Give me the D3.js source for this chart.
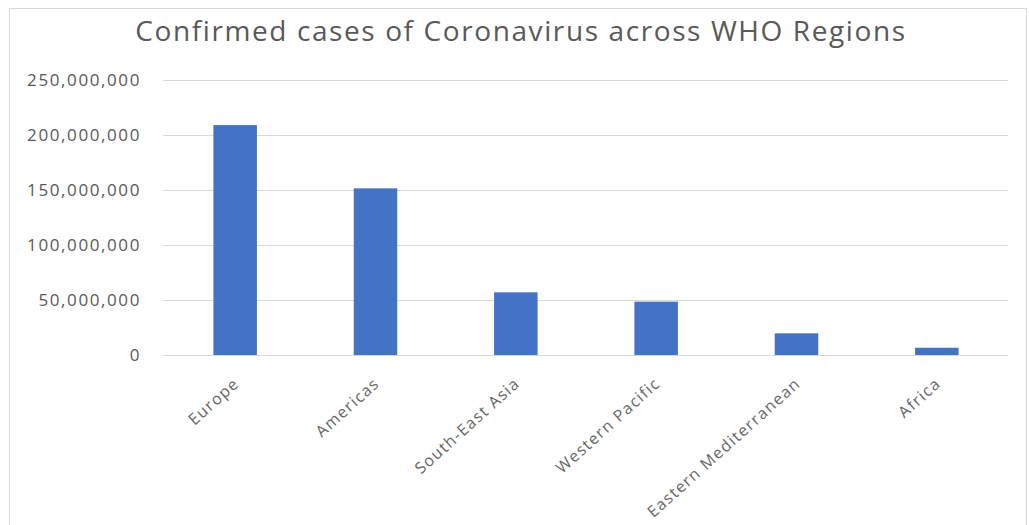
<!DOCTYPE html>
<html><head><meta charset="utf-8">
<script src="https://cdn.jsdelivr.net/npm/d3@7"></script>
<style>body{margin:0;background:#fff;}svg{display:block;font-family:"Open Sans","Noto Sans",sans-serif;}</style>
</head><body>
<svg id="c" width="1029" height="525"></svg>
<script>
const categories = ["Europe","Americas","South-East Asia","Western Pacific","Eastern Mediterranean","Africa"];
const cases = [209000000,151500000,57000000,48500000,19700000,6600000];
const yTicks = [0,50000000,100000000,150000000,200000000,250000000];
const title = "Confirmed cases of Coronavirus across WHO Regions";

const svg = d3.select("#c");
svg.append("rect").attr("x",9.5).attr("y",8.5).attr("width",1017).attr("height",530)
  .attr("fill","#fff").attr("stroke","#d9d9d9");

const x = d3.scaleBand().domain(categories).range([165,1007]).paddingInner(0.69).paddingOuter(0.345);
const y = d3.scaleLinear().domain([0,250000000]).range([355,80]);

svg.append("text").attr("x",521).attr("y",41).attr("text-anchor","middle")
  .attr("font-size",28).attr("letter-spacing",1.6).attr("fill","#595959").text(title);

const ya = svg.append("g").attr("transform","translate(163,0)")
  .call(d3.axisLeft(y).tickValues(yTicks).tickSize(-845).tickPadding(22).tickFormat(d3.format(",")));
ya.select(".domain").remove();
ya.selectAll(".tick line").attr("stroke","#d9d9d9");
ya.selectAll(".tick text").attr("fill","#595959").attr("font-size",17).attr("letter-spacing",1.6)
  .attr("font-family","Open Sans");

svg.append("g").selectAll("rect").data(categories).join("rect")
  .attr("x",d=>x(d)).attr("width",x.bandwidth())
  .attr("y",(d,i)=>y(cases[i])).attr("height",(d,i)=>y(0)-y(cases[i]))
  .attr("fill","#4472c4");

const xa = svg.append("g").attr("transform","translate(0,355)")
  .call(d3.axisBottom(x).tickSize(0).tickPadding(0));
xa.select(".domain").remove();
xa.selectAll(".tick text").attr("fill","#666").attr("font-size",16).attr("letter-spacing",1.3)
  .attr("font-family","Open Sans")
  .attr("text-anchor","end").attr("dy",0)
  .attr("transform","translate(5,30) rotate(-42)");
</script>
</body></html>
